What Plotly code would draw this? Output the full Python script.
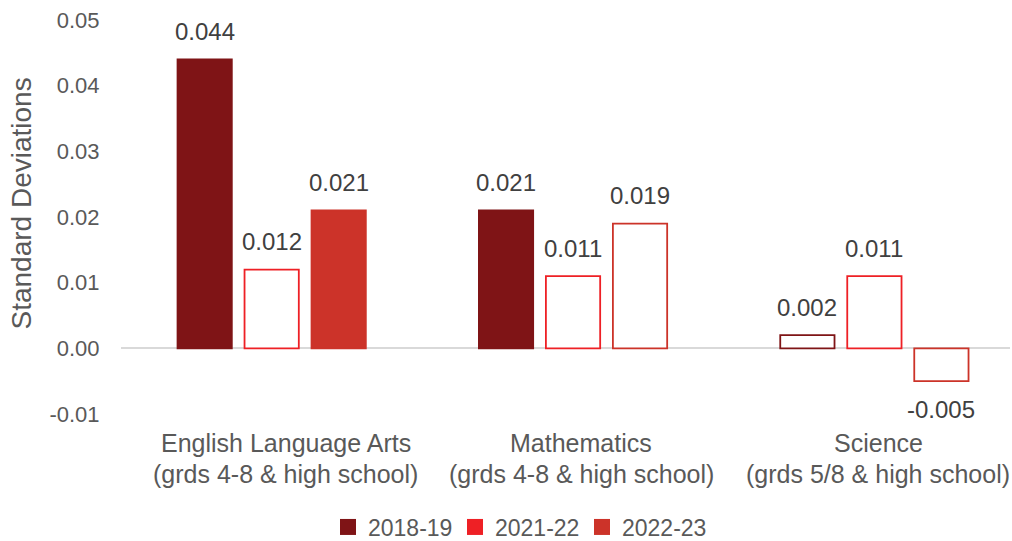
import plotly.graph_objects as go

categories = ["ELA", "Math", "Science"]
cat_line1 = ["English Language Arts", "Mathematics", "Science"]
cat_line2 = ["(grds 4-8 & high school)", "(grds 4-8 & high school)", "(grds 5/8 & high school)"]
years = ["2018-19", "2021-22", "2022-23"]
values = {
    "2018-19": [0.044, 0.021, 0.002],
    "2021-22": [0.012, 0.011, 0.011],
    "2022-23": [0.021, 0.019, -0.005],
}
labels = {
    "2018-19": ["0.044", "0.021", "0.002"],
    "2021-22": ["0.012", "0.011", "0.011"],
    "2022-23": ["0.021", "0.019", "-0.005"],
}
filled = {
    "2018-19": [True, True, False],
    "2021-22": [False, False, False],
    "2022-23": [True, False, False],
}
tick_vals = [-0.01, 0.0, 0.01, 0.02, 0.03, 0.04, 0.05]
tick_text = ["-0.01", "0.00", "0.01", "0.02", "0.03", "0.04", "0.05"]
colors = {"2018-19": "#7F1416", "2021-22": "#EE2025", "2022-23": "#CC3329"}

font = "Liberation Sans, Arial, sans-serif"
fig = go.Figure()
for yr in years:
    c = colors[yr]
    fig.add_trace(go.Bar(
        x=categories, y=values[yr], name=yr, showlegend=False,
        marker=dict(color=[c if f else "white" for f in filled[yr]],
                    line=dict(color=c, width=1.8)),
        offsetgroup=yr,
    ))
for yr in years:
    fig.add_trace(go.Scatter(x=[None], y=[None], name=yr, mode="markers",
                             marker=dict(symbol="square", size=17, color=colors[yr]),
                             showlegend=True))

ann = []
offsets = {"2018-19": -1, "2021-22": 0, "2022-23": 1}
slot = 0.222
for yr in years:
    for i, v in enumerate(values[yr]):
        ann.append(dict(x=i + offsets[yr] * slot, y=v, xref="x", yref="y",
                        text=labels[yr][i], showarrow=False,
                        yshift=28 if v >= 0 else -28,
                        font=dict(size=24, color="#404040", family=font)))
label_xshift = [14, 8, 4]
for i in range(3):
    ann.append(dict(x=i, y=-0.01, xref="x", yref="y", text=cat_line1[i], showarrow=False,
                    yshift=-29, xshift=label_xshift[i],
                    font=dict(size=25, color="#595959", family=font)))
    ann.append(dict(x=i, y=-0.01, xref="x", yref="y", text=cat_line2[i], showarrow=False,
                    yshift=-60, xshift=label_xshift[i],
                    font=dict(size=25, color="#595959", family=font)))
ann.append(dict(x=-(121 - 4) / 889, y=0.533, xref="paper", yref="paper",
                text="Standard Deviations", textangle=-90, showarrow=False,
                font=dict(size=28, color="#595959", family=font)))

fig.update_layout(
    width=1012, height=541,
    margin=dict(l=121, r=2, t=20, b=127.4, autoexpand=False),
    plot_bgcolor="white", paper_bgcolor="white",
    barmode="group", bargap=0.333, bargroupgap=0.19,
    font=dict(family=font, size=22, color="#595959"),
    xaxis=dict(range=[-0.5, 2.45], showticklabels=False, showgrid=False,
               zeroline=False, showline=False, fixedrange=True),
    yaxis=dict(range=[-0.01, 0.05], tickvals=tick_vals, ticktext=tick_text, showgrid=False,
               zeroline=True, zerolinecolor="#D9D9D9", zerolinewidth=1.5,
               showline=False, ticks="outside", ticklen=16, tickcolor="rgba(0,0,0,0)",
               tickfont=dict(size=22, color="#595959", family=font)),
    legend=dict(orientation="h", xref="container", yref="container",
                x=(328 / 1012), xanchor="left", y=(541 - 527) / 541, yanchor="middle",
                font=dict(size=23, color="#595959", family=font),
                entrywidth=82, entrywidthmode="pixels", itemwidth=30,
                traceorder="normal"),
    annotations=ann,
)
fig.write_html("out.html")
